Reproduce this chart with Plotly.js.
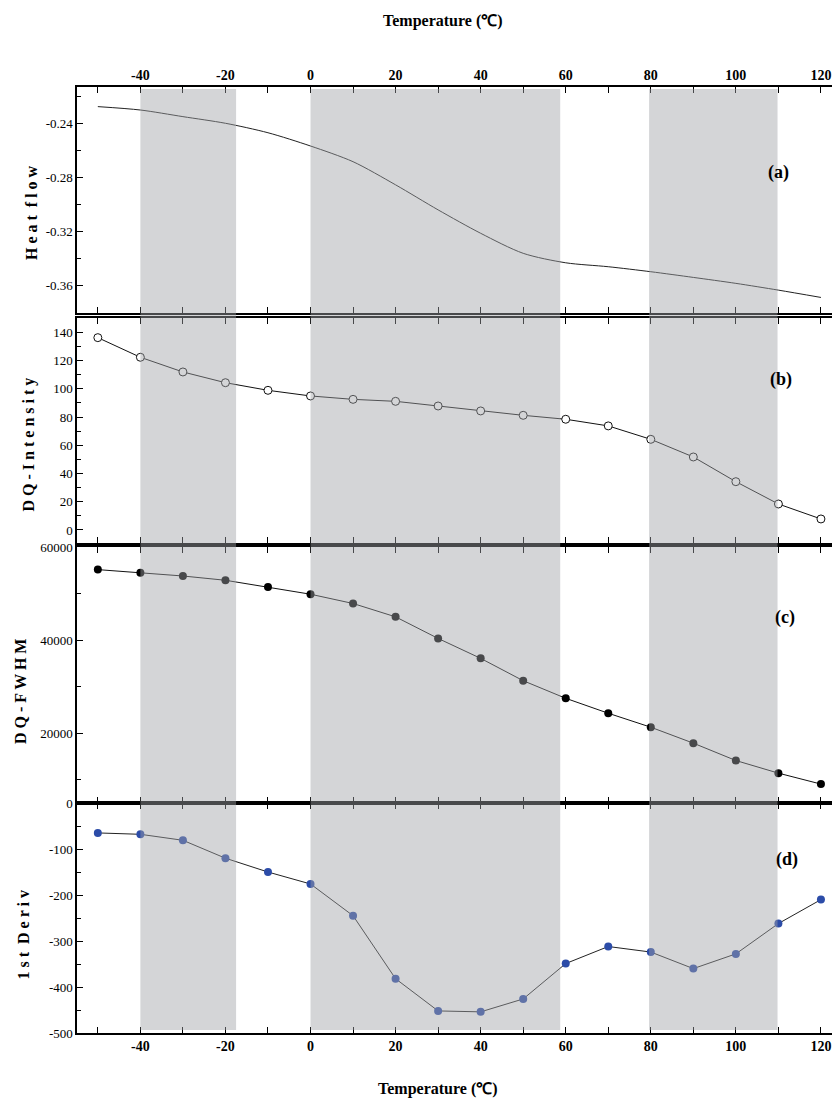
<!DOCTYPE html>
<html>
<head>
<meta charset="utf-8">
<script src="https://cdn.plot.ly/plotly-3.0.1.min.js"></script>
<style>html,body{margin:0;padding:0;background:#fff;}#chart{width:832px;height:1101px;}</style>
</head>
<body>
<div id="chart"></div>
<script>
// Temperatures (℃)
const temps = [-50, -40, -30, -20, -10, 0, 10, 20, 30, 40, 50, 60, 70, 80, 90, 100, 110, 120];
// (a) Heat flow
const heatFlow = [-0.2277, -0.2302, -0.2351, -0.2400, -0.2470, -0.2568, -0.2684, -0.2855, -0.3040, -0.3213, -0.3361, -0.3431, -0.3460, -0.3497, -0.3539, -0.3583, -0.3633, -0.3687];
// (b) DQ-Intensity
const dqIntensity = [136.2, 122.3, 111.9, 104.3, 98.9, 94.9, 92.5, 91.1, 87.8, 84.3, 81.2, 78.4, 73.7, 64.2, 51.7, 34.2, 18.4, 7.8];
// (c) DQ-FWHM
const dqFwhm = [55150, 54500, 53780, 52860, 51430, 49860, 47870, 45000, 40360, 36080, 31280, 27500, 24290, 21290, 17860, 14130, 11420, 9070];
// (d) 1st Deriv
const firstDeriv = [-65, -68, -81, -120, -150, -176, -245, -382, -452, -454, -426, -349, -312, -324, -360, -328, -262, -210];
// Shaded temperature bands
const bandStart = [-40, 0, 79.6];
const bandEnd = [-17.5, 58.7, 109.8];

// Tick labels
const xTickVals = [-40, -20, 0, 20, 40, 60, 80, 100, 120];
const xTickText = ['-40', '-20', '0', '20', '40', '60', '80', '100', '120'];
const xMinorVals = [-50, -30, -10, 10, 30, 50, 70, 90, 110];
const yaTickVals = [-0.24, -0.28, -0.32, -0.36];
const yaTickText = ['-0.24', '-0.28', '-0.32', '-0.36'];
const yaMinorVals = [-0.22, -0.26, -0.30, -0.34, -0.38];
const ybTickVals = [0, 20, 40, 60, 80, 100, 120, 140];
const ybTickText = ['0', '20', '40', '60', '80', '100', '120', '140'];
const ybMinorVals = [10, 30, 50, 70, 90, 110, 130, 150];
const ycTickVals = [20000, 40000, 60000];
const ycTickText = ['20000', '40000', '60000'];
const ycMinorVals = [10000, 30000, 50000];
const ydTickVals = [-500, -400, -300, -200, -100, 0];
const ydTickText = ['-500', '-400', '-300', '-200', '-100', '0'];
const ydMinorVals = [-450, -350, -250, -150, -50];

const panelLabels = ['(a)', '(b)', '(c)', '(d)'];
const yTitles = ['H e a t \u00a0f l o w', 'D Q - I n t e n s i t y', 'D Q - F W H M', '1 s t \u00a0D e r i v'];

const SERIF = '"Liberation Serif", "Times New Roman", Times, serif';

const traces = [
  {x: temps, y: heatFlow, xaxis: 'x', yaxis: 'y', mode: 'lines', type: 'scatter',
   line: {color: '#222', width: 1, shape: 'spline', smoothing: 0.8}},
  {x: temps, y: dqIntensity, xaxis: 'x2', yaxis: 'y2', mode: 'lines+markers', type: 'scatter',
   line: {color: '#111', width: 1},
   marker: {symbol: 'circle', size: 8, color: '#fff', line: {color: '#111', width: 1}}},
  {x: temps, y: dqFwhm, xaxis: 'x3', yaxis: 'y3', mode: 'lines+markers', type: 'scatter',
   line: {color: '#111', width: 1},
   marker: {symbol: 'circle', size: 8, color: '#000', line: {width: 0}}},
  {x: temps, y: firstDeriv, xaxis: 'x4', yaxis: 'y4', mode: 'lines+markers', type: 'scatter',
   line: {color: '#222', width: 1},
   marker: {symbol: 'circle', size: 8, color: '#2c4ca8', line: {width: 0}}}
];

const xRange = [-54.9, 122.6];
function xAxis(anchor, showLabels, side) {
  return {
    anchor: anchor, range: xRange, showline: true, linecolor: '#000', linewidth: 1.6,
    mirror: 'ticks', ticks: 'inside', ticklen: 6, tickwidth: 1, tickcolor: '#000',
    tickmode: 'array', tickvals: xTickVals, ticktext: xTickText, side: side || 'bottom',
    minor: {tickmode: 'array', tickvals: xMinorVals, ticks: 'inside', ticklen: 6, tickwidth: 1, tickcolor: '#000', showgrid: false},
    showticklabels: showLabels, showgrid: false, zeroline: false,
    tickfont: {family: SERIF, size: 14, color: '#000', weight: 'bold'}
  };
}
function yAxis(anchor, domain, range, vals, text, minorVals) {
  return {
    anchor: anchor, domain: domain, range: range, showline: true, linecolor: '#000', linewidth: 1.6,
    ticks: 'inside', ticklen: 6, tickwidth: 1, tickcolor: '#000',
    tickmode: 'array', tickvals: vals, ticktext: text,
    minor: {tickmode: 'array', tickvals: minorVals, ticks: 'inside', ticklen: 4, tickwidth: 1, tickcolor: '#000', showgrid: false},
    showgrid: false, zeroline: false,
    tickfont: {family: SERIF, size: 13, color: '#000'}
  };
}

const shapes = bandStart.map((s, i) => ({
  type: 'rect', xref: 'x', yref: 'paper', x0: s, x1: bandEnd[i], y0: 0.0032, y1: 0.998,
  fillcolor: 'rgba(160,162,166,0.45)', line: {width: 0}, layer: 'above'
}));

const labelPos = [[0.9298, 0.9101], [0.9325, 0.6903], [0.9377, 0.4397], [0.9404, 0.1829]];
const yTitlePos = [[-0.0609, 0.8668], [-0.0642, 0.6216], [-0.0755, 0.3615], [-0.0715, 0.1031]];

const annotations = [];
panelLabels.forEach((t, i) => annotations.push({
  text: t, xref: 'paper', yref: 'paper', x: labelPos[i][0], y: labelPos[i][1],
  xanchor: 'center', yanchor: 'middle', showarrow: false,
  font: {family: SERIF, size: 18, color: '#000', weight: 'bold'}
}));
yTitles.forEach((t, i) => annotations.push({
  text: t, xref: 'paper', yref: 'paper', x: yTitlePos[i][0], y: yTitlePos[i][1],
  xanchor: 'center', yanchor: 'middle', textangle: -90, showarrow: false,
  font: {family: SERIF, size: 16, color: '#000', weight: 'bold'}
}));
['top', 'bottom'].forEach((p) => annotations.push({
  text: 'Temperature (℃)', xref: 'paper', yref: 'paper',
  x: p === 'top' ? 0.4848 : 0.4783, y: p === 'top' ? 1.0698 : -0.0592,
  xanchor: 'center', yanchor: 'middle', showarrow: false,
  font: {family: SERIF, size: 16, color: '#000', weight: 'bold'}
}));

const layout = {
  width: 832, height: 1101,
  margin: {l: 77, r: 0, t: 87, b: 68},
  paper_bgcolor: '#fff', plot_bgcolor: 'rgba(0,0,0,0)',
  showlegend: false,
  xaxis: xAxis('y', true, 'top'),
  xaxis2: xAxis('y2', false),
  xaxis3: xAxis('y3', false),
  xaxis4: xAxis('y4', true, 'bottom'),
  yaxis: yAxis('x', [0.7611, 1.0], [-0.3802, -0.2132], yaTickVals, yaTickText, yaMinorVals),
  yaxis2: yAxis('x2', [0.5180, 0.7558], [-9.2, 150.1], ybTickVals, ybTickText, ybMinorVals),
  yaxis3: yAxis('x3', [0.2431, 0.5137], [5000, 60000], ycTickVals, ycTickText, ycMinorVals),
  yaxis4: yAxis('x4', [0, 0.2431], [-500, 0], ydTickVals, ydTickText, ydMinorVals),
  shapes: shapes,
  annotations: annotations
};

Plotly.newPlot('chart', traces, layout, {staticPlot: true, displayModeBar: false});
</script>
</body>
</html>
